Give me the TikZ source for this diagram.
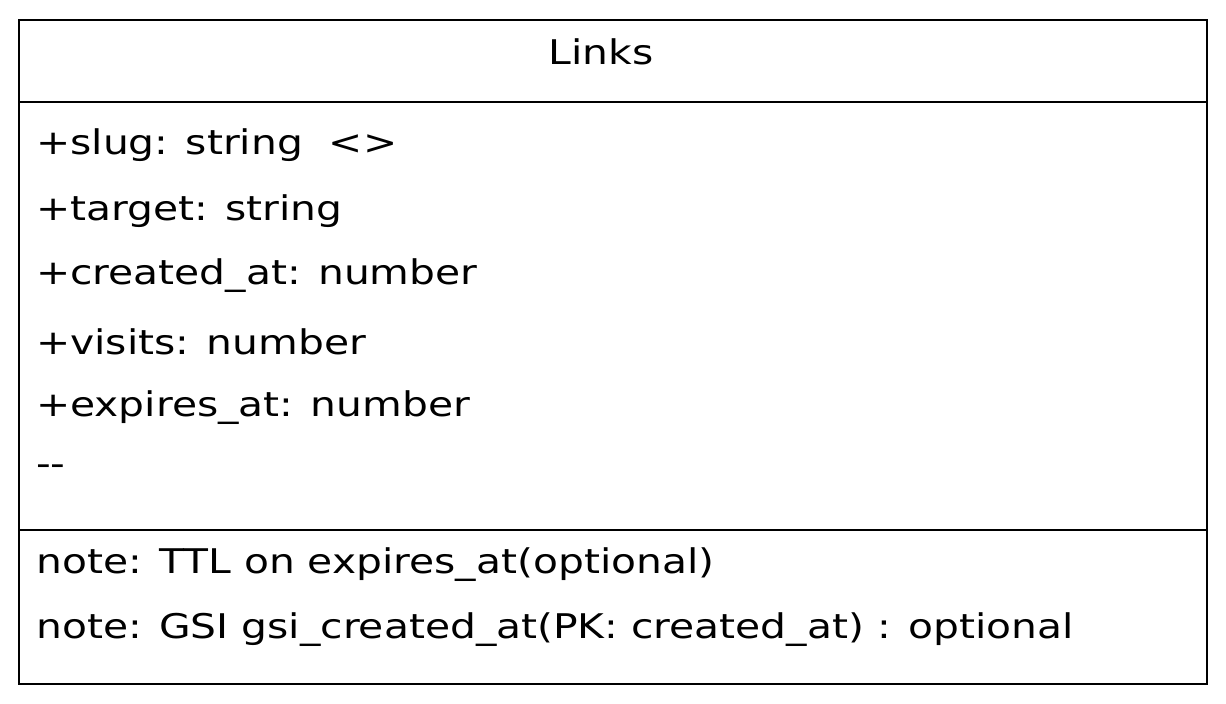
\documentclass[tikz,border=0pt]{standalone}
\usepackage{fontspec}
\setmainfont{DejaVu Sans}
\begin{document}
\begin{tikzpicture}[x=1pt,y=-1pt,
  txt/.style={anchor=west,inner sep=0pt,xscale=1.2,font=\fontsize{34}{40}\selectfont},
  boxline/.style={line width=2.2pt,black}]
\useasboundingbox (0,0) rectangle (1226,704);
\draw[boxline] (19,20) rectangle (1207,684);
\draw[boxline] (19,102) -- (1207,102);
\draw[boxline] (19,530) -- (1207,530);
\node[txt,anchor=center] (title) at (601,52) {Links};
\node[txt] (a1) at (36,145) {+slug: string\ \ <>};
\node[txt] (a2) at (36,211) {+target: string};
\node[txt] (a3) at (36,276) {+created\_at: number};
\node[txt] (a4) at (36,342) {+visits: number};
\node[txt] (a5) at (36,408) {+expires\_at: number};
\node[txt] (a6) at (36,470) {{-}{-}};
\node[txt] (n1) at (36,565) {note: TTL on expires\_at(optional)};
\node[txt] (n2) at (36,630) {note: GSI gsi\_created\_at(PK: created\_at) : optional};
\end{tikzpicture}
\end{document}
